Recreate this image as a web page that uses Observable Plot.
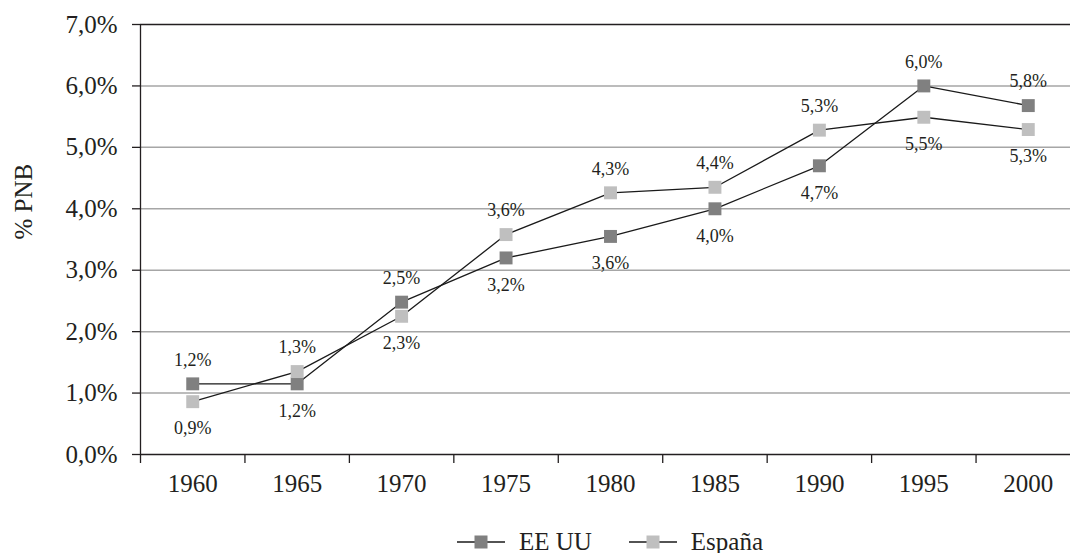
<!DOCTYPE html>
<html><head><meta charset="utf-8">
<script src="https://cdn.jsdelivr.net/npm/d3@7"></script>
<script src="https://cdn.jsdelivr.net/npm/@observablehq/plot@0.6"></script>
<style>
html,body{margin:0;padding:0;background:#fff;overflow:hidden;width:1070px;height:553px}
#chart{position:absolute;left:0;top:0;width:1090px}
#chart svg{max-width:none !important;width:1090px !important;height:500px !important}
#legend{position:absolute;left:140px;width:940px;top:528px;height:28px;display:flex;justify-content:center;align-items:center;font-family:"Liberation Serif",serif;font-size:25px;color:#231f20}
.item{display:flex;align-items:center}
.item svg{margin-right:14px}
</style></head><body>
<div id="chart"></div><div id="legend"></div>
<script>
const years = [1960, 1965, 1970, 1975, 1980, 1985, 1990, 1995, 2000];
const usaValues = [1.15, 1.15, 2.48, 3.2, 3.55, 4.0, 4.7, 6.0, 5.68];
const spainValues = [0.86, 1.35, 2.25, 3.58, 4.26, 4.35, 5.28, 5.49, 5.29];
const usaLabels = ["1,2%", "1,2%", "2,5%", "3,2%", "3,6%", "4,0%", "4,7%", "6,0%", "5,8%"];
const spainLabels = ["0,9%", "1,3%", "2,3%", "3,6%", "4,3%", "4,4%", "5,3%", "5,5%", "5,3%"];
const yTicks = [0, 1, 2, 3, 4, 5, 6, 7];
const seriesNames = ["EE UU", "España"];
const seriesColors = ["#808080", "#bfbfbf"];

const data = [];
years.forEach((yr, i) => {
  data.push({year: yr, value: usaValues[i], label: usaLabels[i], series: seriesNames[0], above: usaValues[i] >= spainValues[i]});
  data.push({year: yr, value: spainValues[i], label: spainLabels[i], series: seriesNames[1], above: spainValues[i] > usaValues[i]});
});
const half = (years[1] - years[0]) / 2;
const boundaries = [years[0] - half, ...years.map(y => y + half)];
const fmt = d => d.toFixed(1).replace(".", ",") + "%";

const chart = Plot.plot({
  width: 1090, height: 500,
  marginLeft: 140, marginRight: 10, marginTop: 24, marginBottom: 46,
  style: {fontFamily: "Liberation Serif, serif", fontSize: "25px", color: "#231f20", background: "#fff"},
  x: {domain: [boundaries[0], boundaries[boundaries.length - 1]]},
  y: {domain: [yTicks[0], yTicks[yTicks.length - 1]]},
  color: {domain: seriesNames, range: seriesColors},
  marks: [
    Plot.ruleY(yTicks.filter(d => d > yTicks[0] && d < yTicks[yTicks.length - 1]), {stroke: "#a6a6a6", strokeWidth: 1.5}),
    Plot.ruleY([yTicks[yTicks.length - 1]], {stroke: "#231f20", strokeWidth: 1.3}),
    Plot.ruleY([yTicks[0]], {stroke: "#231f20", strokeWidth: 1.3}),
    Plot.axisX({ticks: boundaries, tickSize: 9, tickFormat: () => "", stroke: "#231f20", strokeWidth: 1.3, label: null}),
    Plot.axisX({ticks: years, tickSize: 0, tickPadding: 20, tickFormat: d => String(d), label: null, fontSize: 25}),
    Plot.axisY({ticks: yTicks, tickSize: 8, tickPadding: 15, tickFormat: fmt, label: null, fontSize: 25, stroke: "#231f20", strokeWidth: 1.3}),
    Plot.ruleX([boundaries[0]], {y1: yTicks[0], y2: yTicks[yTicks.length - 1], stroke: "#231f20", strokeWidth: 1.3}),
    Plot.text(["% PNB"], {frameAnchor: "left", rotate: -90, dx: -117, fontSize: 25, fill: "#231f20"}),
    Plot.line(data, {x: "year", y: "value", z: "series", stroke: "#1a1a1a", strokeWidth: 1.3}),
    Plot.dot(data, {x: "year", y: "value", symbol: "square", r: 7.3, fill: "series", stroke: "none"}),
    Plot.text(data.filter(d => d.above), {x: "year", y: "value", text: "label", dy: -24, fontSize: 18, fill: "#231f20"}),
    Plot.text(data.filter(d => !d.above), {x: "year", y: "value", text: "label", dy: 27, fontSize: 18, fill: "#231f20"})
  ]
});
document.getElementById("chart").appendChild(chart);

const legend = document.getElementById("legend");
seriesNames.forEach((name, i) => {
  const item = document.createElement("div");
  item.className = "item";
  if (i > 0) item.style.marginLeft = "37px";
  item.innerHTML = `<svg width="48" height="16"><line x1="0" x2="48" y1="8" y2="8" stroke="#1a1a1a" stroke-width="1.3"/><rect x="17.5" y="1.5" width="13" height="13" fill="${seriesColors[i]}"/></svg><span>${name}</span>`;
  legend.appendChild(item);
});
</script>
</body></html>
